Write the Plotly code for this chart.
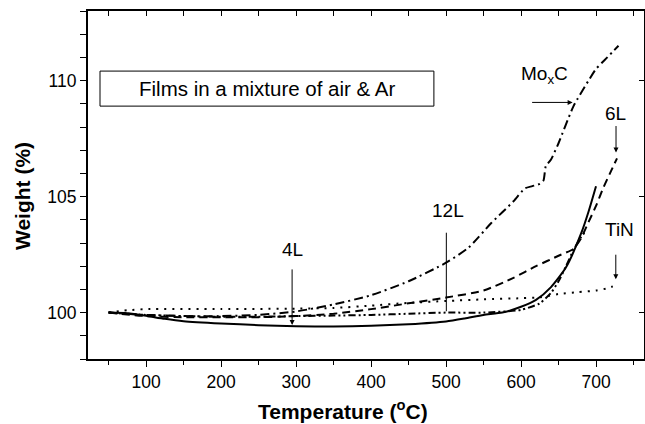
import plotly.graph_objects as go

# ---- data ----
t_4L = [50, 75, 100, 125, 150, 200, 250, 300, 350, 400, 450, 500, 525, 550, 575, 600, 620, 640, 660, 680, 690, 700]
w_4L = [100.0, 99.97, 99.86, 99.73, 99.63, 99.53, 99.46, 99.41, 99.4, 99.43, 99.5, 99.62, 99.75, 99.9, 100.0, 100.25, 100.55, 101.1, 101.95, 103.4, 104.35, 105.45]

t_12L = [50, 100, 150, 200, 250, 300, 350, 400, 450, 500, 550, 600, 625, 640, 650, 660, 670, 680, 686]
w_12L = [100.0, 99.9, 99.85, 99.82, 99.82, 99.85, 99.87, 99.9, 99.95, 100.0, 100.0, 100.12, 100.4, 100.85, 101.35, 102.0, 102.7, 103.25, 103.5]

t_6L = [50, 100, 150, 200, 250, 300, 350, 400, 450, 500, 550, 590, 620, 650, 670, 680, 690, 700, 710, 720, 728]
w_6L = [100.0, 99.85, 99.8, 99.8, 99.8, 99.85, 99.95, 100.15, 100.4, 100.65, 100.95, 101.5, 102.0, 102.45, 102.75, 103.2, 103.9, 104.6, 105.4, 106.1, 106.65]

t_TiN = [50, 75, 100, 200, 300, 350, 400, 450, 500, 550, 600, 625, 650, 675, 700, 715, 730]
w_TiN = [100.0, 100.1, 100.15, 100.15, 100.17, 100.2, 100.3, 100.42, 100.5, 100.57, 100.62, 100.66, 100.8, 100.88, 100.95, 101.05, 101.22]

t_MoxC = [50, 100, 150, 200, 250, 300, 350, 400, 450, 500, 530, 560, 590, 605, 615, 625, 630, 633, 640, 650, 670, 690, 700, 715, 730]
w_MoxC = [100.0, 99.9, 99.85, 99.85, 99.9, 100.05, 100.35, 100.75, 101.35, 102.15, 102.8, 103.85, 104.8, 105.35, 105.45, 105.55, 105.7, 106.3, 106.6, 107.3, 108.9, 110.0, 110.5, 111.0, 111.5]

x_range = [22.5, 764]
y_range = [98, 113]

FONT = "Liberation Sans, Arial, Helvetica, sans-serif"

fig = go.Figure()

def add(t, w, dash):
    fig.add_trace(go.Scatter(x=t, y=w, mode="lines", line=dict(color="black", width=2, dash=dash, shape="spline", smoothing=0.6),
                             showlegend=False, hoverinfo="skip"))

add(t_TiN, w_TiN, "2px,6px")
add(t_12L, w_12L, "7px,3px,2px,3px,2px,3px")
add(t_6L, w_6L, "8px,5px")
add(t_MoxC, w_MoxC, "9px,4px,2px,4px")
add(t_4L, w_4L, "solid")

# invisible trace for mirrored (inner-tick) top / right axes
fig.add_trace(go.Scatter(x=x_range, y=y_range, xaxis="x2", yaxis="y2", mode="markers",
                         marker=dict(opacity=0), showlegend=False, hoverinfo="skip"))

# frame box
fig.add_shape(type="rect", xref="x", yref="y", x0=38.5, x1=483.8, y0=108.9, y1=110.41,
              line=dict(color="black", width=1), fillcolor="white", layer="below")

anns = [
    dict(x=261, y=109.65, text="Films in a mixture of air &amp; Ar", showarrow=False, font=dict(size=20.5)),
    dict(x=631.8, y=110.24, text="Mo<sub>x</sub>C", showarrow=False, font=dict(size=19)),
    dict(x=726.5, y=108.6, text="6L", showarrow=False, font=dict(size=19)),
    dict(x=502.5, y=104.42, text="12L", showarrow=False, font=dict(size=19)),
    dict(x=295.8, y=102.74, text="4L", showarrow=False, font=dict(size=19)),
    dict(x=731.8, y=103.6, text="TiN", showarrow=False, font=dict(size=19)),
    # arrows
    dict(x=668.8, y=109.06, ax=-42, ay=0, text="", showarrow=True, arrowhead=2, arrowsize=1, arrowwidth=1),
    dict(x=726.7, y=106.9, ax=0, ay=-28, text="", showarrow=True, arrowhead=2, arrowsize=1, arrowwidth=1),
    dict(x=500.4, y=100.06, ax=0, ay=-80, text="", showarrow=True, arrowhead=0, arrowwidth=1),
    dict(x=294.7, y=99.47, ax=0, ay=-57, text="", showarrow=True, arrowhead=2, arrowsize=1, arrowwidth=1),
    dict(x=726.4, y=101.44, ax=0, ay=-26, text="", showarrow=True, arrowhead=2, arrowsize=1, arrowwidth=1),
    # axis titles
    dict(x=343, y=410, xref="paper", yref="paper", text="<b>Temperature (<sup>o</sup>C)</b>", showarrow=False,
         font=dict(size=21), xanchor="center", yanchor="middle"),
    dict(x=22, y=196, xref="paper", yref="paper", text="<b>Weight (%)</b>", showarrow=False, textangle=-90,
         font=dict(size=21), xanchor="center", yanchor="middle"),
]
# convert pixel positions of axis titles to paper coords
W, H = 645, 424
ml, mr, mt, mb = 88, 1, 11, 65
pw, ph = W - ml - mr, H - mt - mb
for a in anns[-2:]:
    a["x"] = (a["x"] - ml) / pw
    a["y"] = 1 - (a["y"] - mt) / ph
for a in anns:
    a.setdefault("arrowcolor", "black")
    if "font" in a:
        a["font"]["color"] = "black"
        a["font"]["family"] = FONT
fig.update_layout(annotations=anns)

fig.update_layout(
    width=W, height=H,
    margin=dict(l=ml, r=mr, t=mt, b=mb, pad=0, autoexpand=False),
    plot_bgcolor="white", paper_bgcolor="white",
    font=dict(family=FONT, color="black", size=17),
    xaxis=dict(range=x_range, showgrid=False, zeroline=False, showline=True, linewidth=2, linecolor="black",
               ticks="outside", ticklen=6, tickwidth=1, tickcolor="black", tick0=0, dtick=100,
               minor=dict(ticks="outside", ticklen=4, dtick=50, tick0=0, tickcolor="black", tickwidth=1, showgrid=False),
               tickfont=dict(size=17.5), automargin=False),
    yaxis=dict(range=y_range, showgrid=False, zeroline=False, showline=True, linewidth=2, linecolor="black",
               ticks="outside", ticklen=6, tickwidth=1, tickcolor="black", tick0=0, dtick=5,
               minor=dict(ticks="outside", ticklen=6, dtick=1, tick0=0, tickcolor="black", tickwidth=1, showgrid=False),
               tickfont=dict(size=17.5), automargin=False),
    xaxis2=dict(range=x_range, overlaying="x", side="top", anchor="y2", showgrid=False, zeroline=False,
                showline=True, linewidth=1.5, linecolor="black", ticks="inside", ticklen=5, tickcolor="black",
                tick0=0, dtick=50, showticklabels=False, automargin=False),
    yaxis2=dict(range=y_range, overlaying="y", side="right", anchor="x2", showgrid=False, zeroline=False,
                showline=True, linewidth=1.5, linecolor="black", ticks="inside", ticklen=5, tickcolor="black",
                tick0=0, dtick=5, showticklabels=False, automargin=False),
)

fig.write_html("out.html", config={"displayModeBar": False},
               post_script="document.body.style.margin='0';document.body.style.padding='0';")
